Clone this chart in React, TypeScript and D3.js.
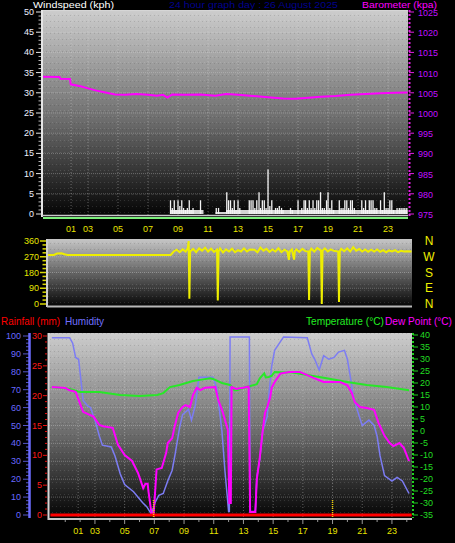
import * as d3 from "d3";

// ---- data (hours since midnight) ----
const tickHours = [1.87, 3, 5, 7, 9, 11, 13, 15, 17, 19, 21, 23];
const tickLabels = ["01", "03", "05", "07", "09", "11", "13", "15", "17", "19", "21", "23"];

const baro: [number, number][] = [
  [0, 1009.0], [1.1, 1008.9], [1.15, 1008.5], [1.8, 1008.4], [1.85, 1007.1], [2.5, 1006.6],
  [3.0, 1006.1], [3.5, 1005.6], [4.0, 1005.2], [4.8, 1004.6], [5.5, 1004.5], [6.2, 1004.7],
  [7.0, 1004.5], [7.6, 1004.3], [8.0, 1004.5], [8.3, 1003.8], [8.6, 1004.6], [9.5, 1004.5],
  [10.5, 1004.6], [11.5, 1004.3], [12.2, 1004.7], [13.0, 1004.5], [14.0, 1004.2], [15.0, 1003.9],
  [16.0, 1003.6], [16.8, 1003.5], [17.5, 1003.7], [18.5, 1004.0], [19.5, 1004.2], [20.5, 1004.5],
  [21.5, 1004.7], [22.5, 1004.9], [23.5, 1005.0], [24.3, 1005.1],
];

// gust samples (kph)
const windGust: [number, number][] = [
  [8.5, 3.4], [8.62, 1.5], [8.75, 3.4], [8.87, 1], [9.0, 3.4], [9.12, 2], [9.25, 3.4], [9.37, 1.5],
  [9.5, 1], [9.62, 1.5], [9.75, 3.4], [9.87, 1], [10.0, 1.5], [10.5, 3.4], [11.55, 1.5], [11.7, 1.5],
  [12.25, 5.4], [12.37, 3.4], [12.5, 3.4], [12.62, 1.5], [12.75, 3.4], [12.87, 1], [13.0, 3.4],
  [13.12, 1.5], [13.75, 3.4], [13.87, 3.4], [14.0, 3.4], [14.12, 1.5], [14.25, 3.4], [14.4, 5.4],
  [14.5, 1.5], [14.62, 3.4], [14.75, 3.4], [14.87, 1.5], [15.0, 11], [15.12, 2], [15.25, 3.4],
  [15.5, 1.5], [15.62, 1.5], [15.75, 2], [15.9, 1.5], [16.0, 1], [16.5, 1.5], [16.62, 1],
  [17.0, 3.4], [17.25, 1.5], [17.4, 3.4], [17.5, 3.4], [17.62, 1.5], [17.75, 3.4], [17.87, 1.5],
  [18.0, 3.4], [18.12, 1.5], [18.25, 3.4], [18.37, 3.4], [18.5, 5.4], [18.62, 1.5], [18.75, 1.5],
  [18.9, 3.4], [19.0, 5.4], [19.12, 1.5], [19.25, 3.4], [19.37, 1], [19.75, 3.4], [19.87, 1.5],
  [20.0, 1.5], [20.12, 3.4], [20.25, 3.4], [20.37, 1.5], [20.5, 3.4], [20.62, 3.4], [20.75, 1.5],
  [21.25, 3.4], [21.37, 1.5], [21.5, 3.4], [21.62, 1], [21.75, 3.4], [21.87, 3.4], [22.0, 3.4],
  [22.12, 1.5], [22.25, 1.5], [22.5, 3.4], [22.62, 1], [22.75, 5.4], [22.87, 1.5], [23.0, 1.5],
  [23.12, 3.4], [23.25, 3.4], [23.37, 1], [23.6, 1.5], [23.75, 1.5], [23.87, 1.5], [24.0, 1.5],
  [24.12, 1.5], [24.25, 1.5],
];

const windAvg: [number, number][] = [
  [0, 0], [8.4, 0], [8.5, 1], [10.6, 1], [10.7, 0], [11.5, 0.5], [12.2, 1], [24.3, 1],
];

const windDir: [number, number][] = [
  [0, 280], [0.4, 280], [0.6, 288], [0.9, 290], [1.1, 284], [1.3, 280], [8.2, 280], [8.4, 300],
  [8.6, 310], [8.8, 296], [9.0, 312], [9.2, 300], [9.35, 320], [9.4, 360], [9.45, 30], [9.5, 300],
  [9.7, 315], [9.9, 296], [10.1, 318], [10.3, 305], [10.5, 322], [10.7, 300], [10.9, 316],
  [11.1, 298], [11.3, 310], [11.35, 20], [11.4, 300], [11.5, 318], [11.7, 295], [11.9, 312],
  [12.1, 300], [12.3, 316], [12.5, 296], [12.7, 308], [12.9, 300], [13.1, 318], [13.3, 300],
  [13.5, 312], [13.8, 310], [14.0, 296], [14.2, 322], [14.4, 305], [14.6, 316], [14.8, 298],
  [15.0, 312], [15.2, 300], [15.4, 318], [15.6, 296], [15.8, 310], [16.0, 300], [16.1, 252],
  [16.15, 300], [16.3, 312], [16.45, 254], [16.5, 302], [16.6, 312], [16.8, 298], [17.0, 315],
  [17.2, 302], [17.4, 300], [17.45, 23], [17.5, 300], [17.6, 316], [17.8, 300], [18.0, 320],
  [18.25, 305], [18.3, 0], [18.35, 305], [18.5, 318], [18.7, 300], [18.9, 312], [19.1, 304],
  [19.4, 300], [19.45, 11], [19.5, 300], [19.6, 316], [19.8, 302], [20.0, 318], [20.2, 300],
  [20.4, 325], [20.6, 305], [20.8, 314], [21.0, 300], [21.2, 312], [21.4, 298], [21.6, 310],
  [21.8, 300], [22.0, 312], [22.2, 298], [22.4, 308], [22.6, 296], [22.8, 306], [23.0, 300],
  [23.2, 308], [23.4, 296], [23.6, 304], [23.8, 300], [24.0, 302], [24.3, 300],
];

const humidity: [number, number][] = [
  [0.1, 99], [1.3, 99], [1.5, 96], [1.7, 88], [1.9, 87], [2.1, 72], [2.2, 64], [2.5, 61],
  [2.7, 60], [3.0, 53], [3.3, 44], [3.5, 39], [4.1, 38], [4.35, 33], [4.7, 23], [5.0, 17],
  [5.6, 13], [6.2, 7], [6.5, 4.5], [6.8, 0.5], [7.05, 7], [7.3, 11], [7.6, 12], [7.9, 19],
  [8.2, 25], [8.4, 34], [8.7, 49], [8.9, 56], [9.3, 59], [9.5, 53], [9.75, 61], [9.9, 70],
  [10.0, 77], [10.95, 77], [11.2, 71], [11.55, 47], [11.75, 25], [12.0, 2], [12.05, 2],
  [12.1, 99.5], [13.4, 99.5], [13.45, 2], [13.8, 2], [13.9, 21], [14.1, 31], [14.3, 47],
  [14.6, 55], [14.7, 66], [14.9, 83], [15.1, 92], [15.7, 99.5], [17.3, 99], [17.6, 90],
  [17.8, 87], [18.1, 81], [18.4, 89], [18.75, 87], [19.1, 88], [19.4, 91], [19.8, 92],
  [20.0, 87], [20.2, 77], [20.4, 66], [20.8, 55], [21.0, 50], [21.45, 53], [21.8, 50],
  [22.0, 44], [22.2, 33], [22.5, 22], [23.0, 19], [23.35, 21], [23.7, 19], [24.15, 12],
];

const dewPoint: [number, number][] = [
  [0.1, 18.3], [1.0, 17.9], [1.3, 17], [1.7, 16.3], [1.9, 13], [2.2, 8], [2.9, 6], [3.3, 2.5],
  [3.55, 2], [4.2, 1.3], [4.55, -5.8], [5.0, -10], [5.5, -12.5], [5.9, -17.5], [6.25, -23.8],
  [6.4, -22], [6.55, -22], [6.6, -25], [6.8, -34], [6.95, -35], [7.15, -16], [7.5, -15.4],
  [7.8, -9], [7.9, -5], [8.2, -3], [8.35, 1.5], [8.6, 7.5], [8.9, 10], [9.1, 10.8], [9.4, 10],
  [9.6, 15], [9.85, 18], [10.1, 17], [10.4, 18], [11.1, 18.3], [11.3, 13], [11.6, 8],
  [11.95, 0.4], [12.05, -30], [12.15, -30], [12.2, 18.3], [12.5, 17.5], [13.0, 18],
  [13.35, 18.5], [13.45, -33.7], [13.8, -33.7], [13.9, -20], [14.1, -11], [14.3, 0.4],
  [14.45, 7.5], [14.6, 10], [14.8, 14], [14.9, 18], [15.1, 20.4], [15.5, 24], [16.1, 24.6],
  [16.8, 24.6], [17.3, 23.3], [17.75, 22], [18.4, 20.4], [19.5, 20.4], [20.0, 19], [20.3, 15.8],
  [20.5, 12], [20.85, 10], [21.3, 9.6], [21.8, 8.8], [22.1, 3.3], [22.2, 2], [22.5, -2],
  [22.85, -5], [23.1, -6.3], [23.5, -5], [23.8, -7], [24.15, -12.5],
];

const temperature: [number, number][] = [
  [0.1, 18.3], [1.3, 17.5], [2.0, 16.3], [3.3, 16.2], [4.7, 15], [6.0, 14.6], [7.2, 15],
  [7.6, 15.8], [8.05, 18.3], [8.7, 19.2], [9.6, 20.8], [10.1, 21.3], [10.75, 22], [10.95, 21.7],
  [11.55, 20], [12.1, 19.2], [12.4, 17], [12.55, 17], [13.2, 18.3], [13.9, 19.5], [14.1, 22],
  [14.4, 24], [14.5, 22.3], [14.7, 22.5], [14.9, 23], [15.1, 24.6], [15.9, 24.4], [16.1, 24.6],
  [17.3, 23.3], [18.6, 22], [20.0, 20.4], [21.3, 19.2], [22.65, 18.3], [24.15, 17],
];

const rainfall: [number, number][] = [[0, 0], [24.33, 0]];
const markerHours = [6.95, 19.0];

const FONT = "'Liberation Sans', Arial, sans-serif";

export default function App ()
{
  // scales
  const xTop = d3.scaleLinear().domain( [ 0, 24.33 ] ).range( [ 43, 408 ] );
  const yWind = d3.scaleLinear().domain( [ 0, 50 ] ).range( [ 214, 12 ] );
  const yBaro = d3.scaleLinear().domain( [ 975, 1025 ] ).range( [ 214, 12 ] );

  const xMid = d3.scaleLinear().domain( [ 0, 24.33 ] ).range( [ 48, 412 ] );
  const yDir = d3.scaleLinear().domain( [ 0, 360 ] ).range( [ 304, 241 ] );

  const xBot = d3.scaleLinear().domain( [ 0, 24.33 ] ).range( [ 50.4, 411.7 ] );
  const yHum = d3.scaleLinear().domain( [ 0, 100 ] ).range( [ 515, 336 ] );
  const yRain = d3.scaleLinear().domain( [ 0, 30 ] ).range( [ 515, 336 ] );
  const yTemp = d3.scaleLinear().domain( [ -35, 40 ] ).range( [ 515, 335 ] );

  const lineOf = ( x: d3.ScaleLinear<number, number>, y: d3.ScaleLinear<number, number>, curve = d3.curveLinear ) =>
    d3.line<[ number, number ]>().x( d => x( d[ 0 ] ) ).y( d => y( d[ 1 ] ) ).curve( curve );

  const avgArea = d3.area<[ number, number ]>().x( d => xTop( d[ 0 ] ) ).y0( yWind( 0 ) ).y1( d => yWind( d[ 1 ] ) ).curve( d3.curveStepAfter );

  const hourTicks = d3.range( 1, 25 );

  return (
    <div style={ { position: "fixed", left: 0, top: 0, width: 455, height: 543, background: "#000" } }>
      <svg width={ 455 } height={ 543 } style={ { display: "block", fontFamily: FONT } }>
        <defs>
          <linearGradient id="bgTop" x1="0" y1="0" x2="0" y2="1">
            <stop offset="0%" stopColor="#cdcdcd" />
            <stop offset="55%" stopColor="#6a6a6a" />
            <stop offset="100%" stopColor="#030303" />
          </linearGradient>
          <linearGradient id="bgMid" x1="0" y1="0" x2="0" y2="1">
            <stop offset="0%" stopColor="#c6c6c6" />
            <stop offset="100%" stopColor="#060606" />
          </linearGradient>
          <pattern id="dither" width="4" height="6" patternUnits="userSpaceOnUse">
            <rect x="0" y="2" width="1" height="1" fill="#fff" opacity="0.12" />
            <rect x="2" y="3" width="1" height="1" fill="#000" opacity="0.12" />
          </pattern>
        </defs>

        <rect width={ 455 } height={ 543 } fill="#000" />

        {/* ===== titles ===== */}
        <text x={ 33 } y={ 7.5 } fontSize={ 9.5 } fill="#fff" textLength={ 81 } lengthAdjust="spacingAndGlyphs">Windspeed (kph)</text>
        <text x={ 169 } y={ 7.5 } fontSize={ 9.5 } fill="#00008c" textLength={ 169 } lengthAdjust="spacingAndGlyphs">24 hour graph day : 26 August 2025</text>
        <text x={ 362 } y={ 7.5 } fontSize={ 9.5 } fill="#ff00ff" textLength={ 75 } lengthAdjust="spacingAndGlyphs">Barometer (kpa)</text>

        {/* ===== top panel ===== */}
        <rect x={ 43 } y={ 10 } width={ 365 } height={ 206 } fill="url(#bgTop)" />
        <rect x={ 43 } y={ 10 } width={ 365 } height={ 206 } fill="url(#dither)" />
        { d3.range( 5, 50, 5 ).map( v => (
          <line key={ "tg" + v } x1={ 43 } x2={ 408 } y1={ yWind( v ) } y2={ yWind( v ) } stroke="#d8d8d8" strokeOpacity={ 0.35 } strokeDasharray="1,1" />
        ) ) }
        { tickHours.map( h => (
          <line key={ "tv" + h } x1={ xTop( h ) } x2={ xTop( h ) } y1={ 10 } y2={ 216 } stroke="#d8d8d8" strokeOpacity={ 0.4 } strokeDasharray="1,2" />
        ) ) }
        <path d={ avgArea( windAvg ) ?? "" } fill="#d4d4d4" />
        { windGust.map( ( [ h, v ], i ) => (
          <line key={ "wg" + i } x1={ xTop( h ) } x2={ xTop( h ) } y1={ yWind( 0 ) } y2={ yWind( v ) } stroke="#f4f4f4" strokeWidth={ 1.3 } />
        ) ) }
        <path d={ lineOf( xTop, yBaro )( baro ) ?? "" } fill="none" stroke="#ff00ff" strokeWidth={ 2 } />
        <line x1={ 43 } x2={ 408 } y1={ 10.5 } y2={ 10.5 } stroke="#d6d6d6" />
        <line x1={ 42 } x2={ 42 } y1={ 10 } y2={ 217 } stroke="#e6e6e6" strokeWidth={ 2 } />
        <line x1={ 42 } x2={ 408 } y1={ 215.5 } y2={ 215.5 } stroke="#c8c8c8" strokeWidth={ 1.5 } />
        <line x1={ 43 } x2={ 408 } y1={ 218 } y2={ 218 } stroke="#7cf07c" strokeWidth={ 2 } />

        {/* left wind axis */}
        { d3.range( 0, 51, 1 ).map( v => (
          <line key={ "wm" + v } x1={ v % 5 === 0 ? 36 : 38.5 } x2={ 41 } y1={ yWind( v ) } y2={ yWind( v ) } stroke="#e8e8e8" strokeWidth={ v % 5 === 0 ? 1 : 0.8 } />
        ) ) }
        { d3.range( 0, 51, 5 ).map( v => (
          <text key={ "wl" + v } x={ 34 } y={ yWind( v ) + 3 } fontSize={ 9 } fill="#eef0ff" textAnchor="end">{ v }</text>
        ) ) }

        {/* right baro axis */}
        <line x1={ 409.5 } x2={ 409.5 } y1={ 10 } y2={ 216 } stroke="#e020e0" strokeWidth={ 2 } strokeDasharray="2,2" />
        { d3.range( 975, 1026, 5 ).map( v => (
          <g key={ "bl" + v }>
            <line x1={ 409 } x2={ 414 } y1={ yBaro( v ) } y2={ yBaro( v ) } stroke="#e020e0" />
            <text x={ 418 } y={ yBaro( v ) + 4 } fontSize={ 9 } fill="#c010ff">{ v }</text>
          </g>
        ) ) }

        {/* hour labels (top) */}
        { tickHours.map( ( h, i ) => (
          <text key={ "hl" + i } x={ xTop( h ) } y={ 232 } fontSize={ 9 } fill="#e8e400" textAnchor="middle">{ tickLabels[ i ] }</text>
        ) ) }

        {/* ===== middle panel ===== */}
        <rect x={ 48 } y={ 239 } width={ 364 } height={ 67 } fill="url(#bgMid)" />
        <rect x={ 48 } y={ 239 } width={ 364 } height={ 67 } fill="url(#dither)" />
        { [ 90, 180, 270 ].map( v => (
          <line key={ "dg" + v } x1={ 48 } x2={ 412 } y1={ yDir( v ) } y2={ yDir( v ) } stroke="#d8d8d8" strokeOpacity={ 0.3 } strokeDasharray="1,1" />
        ) ) }
        <path d={ lineOf( xMid, yDir )( windDir ) ?? "" } fill="none" stroke="#eeee00" strokeWidth={ 2 } />
        <line x1={ 47 } x2={ 47 } y1={ 239 } y2={ 307 } stroke="#d0d0d0" strokeWidth={ 2 } />
        <line x1={ 47 } x2={ 412 } y1={ 306.5 } y2={ 306.5 } stroke="#b8b8b8" strokeWidth={ 2 } />
        { d3.range( 0, 361, 22.5 ).map( v => (
          <line key={ "dm" + v } x1={ v % 90 === 0 ? 40 : 42.5 } x2={ 46 } y1={ yDir( v ) } y2={ yDir( v ) } stroke="#d8d800" strokeWidth={ 1.5 } />
        ) ) }
        { d3.range( 0, 361, 90 ).map( v => (
          <text key={ "dl" + v } x={ 39 } y={ yDir( v ) + 3 } fontSize={ 9 } fill="#e6e600" textAnchor="end">{ v }</text>
        ) ) }
        { [ [ "N", 0 ], [ "W", 90 ], [ "S", 180 ], [ "E", 270 ], [ "N", 360 ] ].map( ( [ s, v ], i ) => (
          <text key={ "cp" + i } x={ 429 } y={ yDir( 360 - ( v as number ) ) + 4 } fontSize={ 12 } fill="#f0f000" textAnchor="middle">{ s }</text>
        ) ) }

        {/* ===== bottom panel titles ===== */}
        <text x={ 1 } y={ 325 } fontSize={ 11 } fill="#ff0000" textLength={ 59 } lengthAdjust="spacingAndGlyphs">Rainfall (mm)</text>
        <text x={ 65 } y={ 325 } fontSize={ 11 } fill="#7070ff" textLength={ 39 } lengthAdjust="spacingAndGlyphs">Humidity</text>
        <text x={ 306 } y={ 325 } fontSize={ 11 } fill="#22ee22" textLength={ 78 } lengthAdjust="spacingAndGlyphs">Temperature (°C)</text>
        <text x={ 385 } y={ 325 } fontSize={ 10.5 } fill="#ff00ff" textLength={ 67 } lengthAdjust="spacingAndGlyphs">Dew Point (°C)</text>

        {/* ===== bottom panel ===== */}
        <rect x={ 49 } y={ 333 } width={ 363 } height={ 185 } fill="url(#bgTop)" />
        <rect x={ 49 } y={ 333 } width={ 363 } height={ 185 } fill="url(#dither)" />
        { d3.range( 10, 100, 10 ).map( v => (
          <line key={ "bg" + v } x1={ 49 } x2={ 412 } y1={ yHum( v ) } y2={ yHum( v ) } stroke="#d8d8d8" strokeOpacity={ 0.35 } strokeDasharray="1,1" />
        ) ) }
        { tickHours.map( h => (
          <line key={ "bv" + h } x1={ xBot( h ) } x2={ xBot( h ) } y1={ 333 } y2={ 518 } stroke="#d8d8d8" strokeOpacity={ 0.4 } strokeDasharray="1,2" />
        ) ) }
        <path d={ lineOf( xBot, yHum )( humidity ) ?? "" } fill="none" stroke="#7c7cf4" strokeWidth={ 1.5 } />
        <path d={ lineOf( xBot, yTemp )( temperature ) ?? "" } fill="none" stroke="#28e828" strokeWidth={ 2 } />
        <path d={ lineOf( xBot, yTemp )( dewPoint ) ?? "" } fill="none" stroke="#ff00ff" strokeWidth={ 2 } />
        <path d={ lineOf( xBot, yRain )( rainfall ) ?? "" } fill="none" stroke="#ff0000" strokeWidth={ 3 } />
        { markerHours.map( h => (
          <line key={ "mk" + h } x1={ xBot( h ) } x2={ xBot( h ) } y1={ 500 } y2={ 517 } stroke="#f0d000" strokeWidth={ 1.5 } strokeDasharray="1,1" />
        ) ) }
        <line x1={ 48.5 } x2={ 48.5 } y1={ 333 } y2={ 520 } stroke="#d6d6d6" strokeWidth={ 2 } />
        <line x1={ 48 } x2={ 412 } y1={ 519 } y2={ 519 } stroke="#c8c8c8" strokeWidth={ 2 } />
        { hourTicks.map( h => (
          <line key={ "bt" + h } x1={ xBot( h ) } x2={ xBot( h ) } y1={ 520 } y2={ tickHours.includes( h ) ? 524 : 522 } stroke="#9a9a9a" />
        ) ) }
        { tickHours.map( ( h, i ) => (
          <text key={ "bl" + i } x={ xBot( h ) } y={ 534 } fontSize={ 9 } fill="#e8e400" textAnchor="middle">{ tickLabels[ i ] }</text>
        ) ) }

        {/* humidity axis */}
        <line x1={ 29.5 } x2={ 29.5 } y1={ 333 } y2={ 518 } stroke="#6c6cff" strokeWidth={ 2.5 } />
        { d3.range( 0, 101, 2 ).map( v => (
          <line key={ "hm" + v } x1={ v % 10 === 0 ? 23 : 26 } x2={ 29 } y1={ yHum( v ) } y2={ yHum( v ) } stroke="#6c6cff" strokeWidth={ 0.8 } />
        ) ) }
        { d3.range( 0, 101, 10 ).map( v => (
          <text key={ "hl" + v } x={ 21 } y={ yHum( v ) + 3 } fontSize={ 9 } fill="#6a6aff" textAnchor="end">{ v }</text>
        ) ) }

        {/* rain axis */}
        { d3.range( 0, 31, 1 ).map( v => (
          <line key={ "rm" + v } x1={ v % 5 === 0 ? 43 : 45 } x2={ 47 } y1={ yRain( v ) } y2={ yRain( v ) } stroke="#ee1010" strokeWidth={ 1 } />
        ) ) }
        { d3.range( 0, 31, 5 ).map( v => (
          <text key={ "rl" + v } x={ 42 } y={ yRain( v ) + 3 } fontSize={ 9 } fill="#ff1818" textAnchor="end">{ v }</text>
        ) ) }

        {/* temperature axis */}
        <line x1={ 413 } x2={ 413 } y1={ 333 } y2={ 518 } stroke="#20d020" strokeWidth={ 2 } strokeDasharray="2,2" />
        { d3.range( -35, 41, 5 ).map( v => (
          <g key={ "tl" + v }>
            <line x1={ 413 } x2={ 418 } y1={ yTemp( v ) } y2={ yTemp( v ) } stroke="#20d020" />
            <text x={ 420 } y={ yTemp( v ) + 3 } fontSize={ 9 } fill="#22dd22">{ v }</text>
          </g>
        ) ) }
      </svg>
    </div>
  );
}
